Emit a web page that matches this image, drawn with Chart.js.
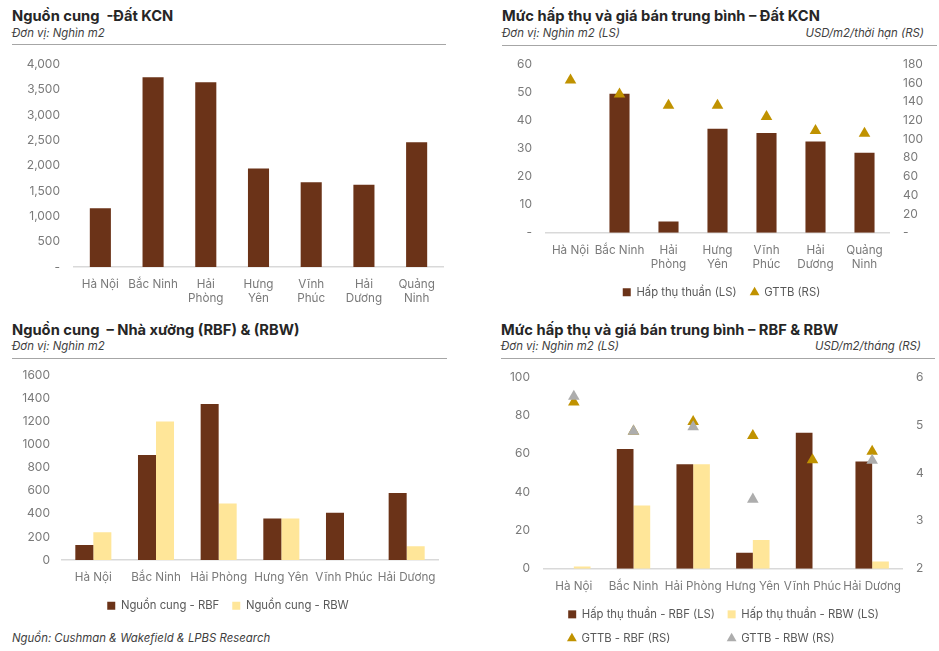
<!DOCTYPE html>
<html lang="vi">
<head>
<meta charset="UTF-8">
<title>Nguồn cung và mức hấp thụ KCN</title>
<script src="https://cdn.jsdelivr.net/npm/chart.js"></script>
<style>
    body { margin: 0; width: 939px; height: 651px; background: #fff; font-family: Inter, "Noto Sans", sans-serif; position: relative; overflow: hidden; }
    .title { position: absolute; font-weight: 700; font-size: 14.7px; line-height: 18px; color: #262626; white-space: pre; }
    .sub { position: absolute; font-style: italic; font-size: 11.4px; line-height: 16px; color: #404040; white-space: pre; }
    .rule { position: absolute; height: 0; border-top: 1px solid #a6a6a6; }
    canvas { position: absolute; }
</style>
</head>
<body>
    <div class="title" style="left:12px; top:7px;">Nguồn cung  -Đất KCN</div>
    <div class="sub" style="left:12px; top:25px;">Đơn vị: Nghìn m2</div>
    <div class="rule" style="left:12px; top:44px; width:434px;"></div>

    <div class="title" style="left:502px; top:7px;">Mức hấp thụ và giá bán trung bình – Đất KCN</div>
    <div class="sub" style="left:502px; top:25px;">Đơn vị: Nghìn m2 (LS)</div>
    <div class="sub" style="right:15px; top:25px;">USD/m2/thời hạn (RS)</div>
    <div class="rule" style="left:502px; top:45px; width:435px;"></div>

    <div class="title" style="left:12px; top:321px;">Nguồn cung  – Nhà xưởng (RBF) &amp; (RBW)</div>
    <div class="sub" style="left:12px; top:338px;">Đơn vị: Nghìn m2</div>
    <div class="rule" style="left:12px; top:358px; width:435px;"></div>

    <div class="title" style="left:501px; top:321px;">Mức hấp thụ và giá bán trung bình – RBF &amp; RBW</div>
    <div class="sub" style="left:501px; top:338px;">Đơn vị: Nghìn m2 (LS)</div>
    <div class="sub" style="right:18px; top:338px;">USD/m2/tháng (RS)</div>
    <div class="rule" style="left:501px; top:358px; width:434px;"></div>

    <div class="sub" style="left:12px; top:630px;">Nguồn: Cushman &amp; Wakefield &amp; LPBS Research</div>

    <canvas id="landSupplyChart" width="465" height="269" style="left:0; top:43px;"></canvas>
    <canvas id="landAbsorbChart" width="469" height="265" style="left:470px; top:43px;"></canvas>
    <canvas id="factorySupplyChart" width="465" height="268" style="left:0; top:356px;"></canvas>
    <canvas id="factoryAbsorbChart" width="469" height="298" style="left:470px; top:356px;"></canvas>

    <script>
        // du lieu doc tu hinh
        var provinces7 = [['Hà Nội'], ['Bắc Ninh'], ['Hải', 'Phòng'], ['Hưng', 'Yên'], ['Vĩnh', 'Phúc'], ['Hải', 'Dương'], ['Quảng', 'Ninh']];
        var landSupply = [1160, 3745, 3645, 1945, 1670, 1620, 2460];
        var landAbsorption = [0, 49.5, 4, 37, 35.5, 32.5, 28.5];
        var landPrice = [163, 148, 136, 136, 124, 109, 106];

        var provinces6 = ['Hà Nội', 'Bắc Ninh', 'Hải Phòng', 'Hưng Yên', 'Vĩnh Phúc', 'Hải Dương'];
        var rbfSupply = [130, 910, 1350, 360, 410, 580];
        var rbwSupply = [240, 1200, 490, 360, 0, 120];
        var rbfAbsorption = [0, 62.5, 54.5, 8.3, 71, 56];
        var rbwAbsorption = [1.2, 33, 54.5, 15, 0, 3.8];
        var rbfPrice = [5.48, 4.87, 5.07, 4.78, 4.27, 4.45];
        var rbwPrice = [5.6, 4.87, 4.96, 3.45, null, 4.26];

        var brown = '#6B3318';
        var yellow = '#FFE699';
        var gold = '#C09200';
        var grey = '#ADADAD';
        var tickColor = '#7a7a7a';
        var fontFamily = 'Inter, "Noto Sans", sans-serif';
        var legendSize = 11.3;

        Chart.defaults.font.family = fontFamily;
        Chart.defaults.font.size = 11.7;
        Chart.defaults.color = tickColor;
        Chart.defaults.animation = false;
        Chart.defaults.responsive = false;
        Chart.defaults.plugins.tooltip.enabled = false;

        function dashZero(v) {
            return v === 0 ? '-' : v.toLocaleString('en-US');
        }

        function xAxis(height, pad) {
            return {
                grid: { display: false, drawTicks: false },
                border: { display: true, color: '#d9d9d9', width: 1.5 },
                ticks: { padding: pad, maxRotation: 0, autoSkip: false, font: { size: 11.7, lineHeight: 1.2 } },
                afterFit: function(s) { s.height = height; }
            };
        }

        function yAxis(pos, width, min, max, step, cb, pad) {
            return {
                position: pos,
                min: min, max: max,
                grid: { display: false, drawTicks: false },
                border: { display: false },
                ticks: { stepSize: step, padding: pad || 14, callback: cb, font: { size: 12 } },
                afterFit: function(s) { s.width = width; }
            };
        }

        function legendLabels(pad) {
            return {
                usePointStyle: true,
                boxWidth: 8,
                boxHeight: 8,
                padding: pad,
                color: '#595959',
                font: { size: legendSize },
                sort: function(a, b) { return a.datasetIndex - b.datasetIndex; }
            };
        }

        // 1. Nguon cung dat KCN
        new Chart(document.getElementById('landSupplyChart'), {
            type: 'bar',
            data: {
                labels: provinces7,
                datasets: [{
                    label: 'Nguồn cung',
                    data: landSupply,
                    backgroundColor: brown,
                    categoryPercentage: 1,
                    barPercentage: 0.4
                }]
            },
            options: {
                layout: { padding: { left: 0, top: 6, right: 22, bottom: 0 } },
                plugins: { legend: { display: false } },
                scales: {
                    x: xAxis(45, 10.5),
                    y: yAxis('left', 74, 0, 4000, 500, dashZero)
                }
            }
        });

        // 2. Hap thu va gia dat KCN
        new Chart(document.getElementById('landAbsorbChart'), {
            type: 'bar',
            data: {
                labels: provinces7,
                datasets: [{
                    label: 'Hấp thụ thuần (LS)',
                    data: landAbsorption,
                    backgroundColor: brown,
                    pointStyle: 'rect',
                    categoryPercentage: 1,
                    barPercentage: 0.41,
                    yAxisID: 'y',
                    order: 2
                }, {
                    type: 'line',
                    label: 'GTTB (RS)',
                    data: landPrice,
                    showLine: false,
                    pointStyle: 'triangle',
                    pointRadius: 6.7,
                    backgroundColor: gold,
                    borderColor: gold,
                    borderWidth: 0,
                    yAxisID: 'y1',
                    order: 1
                }]
            },
            options: {
                layout: { padding: { left: 44, top: 6, right: 10, bottom: 0 } },
                plugins: { legend: { position: 'bottom', labels: legendLabels(14) } },
                scales: {
                    x: xAxis(40, 11),
                    y: yAxis('left', 32, 0, 60, 10, dashZero),
                    y1: yAxis('right', 40, 0, 180, 20, dashZero)
                }
            }
        });

        // 3. Nguon cung nha xuong
        new Chart(document.getElementById('factorySupplyChart'), {
            type: 'bar',
            data: {
                labels: provinces6,
                datasets: [{
                    label: 'Nguồn cung - RBF',
                    data: rbfSupply,
                    backgroundColor: brown,
                    pointStyle: 'rect',
                    categoryPercentage: 0.575,
                    barPercentage: 1
                }, {
                    label: 'Nguồn cung - RBW',
                    data: rbwSupply,
                    backgroundColor: yellow,
                    pointStyle: 'rect',
                    categoryPercentage: 0.575,
                    barPercentage: 1
                }]
            },
            options: {
                layout: { padding: { left: 18, top: 9, right: 27, bottom: 2.7 } },
                plugins: { legend: { position: 'bottom', labels: legendLabels(13) } },
                scales: {
                    x: xAxis(27, 10),
                    y: yAxis('left', 44, 0, 1600, 200, function(v) { return v; }, 12)
                }
            }
        });

        // 4. Hap thu va gia nha xuong
        var rbLegend = legendLabels(12.7);
        rbLegend.generateLabels = function(chart) {
            // them khoang trang de hai hang chu thich thang cot
            var items = Chart.defaults.plugins.legend.labels.generateLabels(chart);
            var byIdx = {};
            items.forEach(function(it) { byIdx[it.datasetIndex] = it; });
            var ctx = chart.ctx;
            ctx.save();
            ctx.font = 'normal ' + legendSize + 'px ' + fontFamily;
            [[2, 0], [3, 1]].forEach(function(p) {
                var it = byIdx[p[0]], ref = byIdx[p[1]];
                var target = ctx.measureText(ref.text).width;
                while (ctx.measureText(it.text).width < target) it.text += '\u00a0';
            });
            ctx.restore();
            return items;
        };

        new Chart(document.getElementById('factoryAbsorbChart'), {
            type: 'bar',
            data: {
                labels: provinces6,
                datasets: [{
                    label: 'Hấp thụ thuần - RBF (LS)',
                    data: rbfAbsorption,
                    backgroundColor: brown,
                    pointStyle: 'rect',
                    categoryPercentage: 0.56,
                    barPercentage: 1,
                    yAxisID: 'y',
                    order: 3
                }, {
                    label: 'Hấp thụ thuần - RBW (LS)',
                    data: rbwAbsorption,
                    backgroundColor: yellow,
                    pointStyle: 'rect',
                    categoryPercentage: 0.56,
                    barPercentage: 1,
                    yAxisID: 'y',
                    order: 3
                }, {
                    type: 'line',
                    label: 'GTTB - RBF (RS)',
                    data: rbfPrice,
                    showLine: false,
                    pointStyle: 'triangle',
                    pointRadius: 6.7,
                    backgroundColor: gold,
                    borderColor: gold,
                    borderWidth: 0,
                    yAxisID: 'y1',
                    order: 2
                }, {
                    type: 'line',
                    label: 'GTTB - RBW (RS)',
                    data: rbwPrice,
                    showLine: false,
                    pointStyle: 'triangle',
                    pointRadius: 6.7,
                    backgroundColor: grey,
                    borderColor: grey,
                    borderWidth: 0,
                    yAxisID: 'y1',
                    order: 1
                }]
            },
            options: {
                layout: { padding: { left: 38, top: 9, right: 0, bottom: 0 } },
                plugins: { legend: { position: 'bottom', labels: rbLegend } },
                scales: {
                    x: xAxis(27.3, 10.5),
                    y: yAxis('left', 36, 0, 100, 20, function(v) { return v; }),
                    y1: yAxis('right', 37, 2, 6, 1, function(v) { return v; })
                }
            }
        });
    </script>
</body>
</html>
